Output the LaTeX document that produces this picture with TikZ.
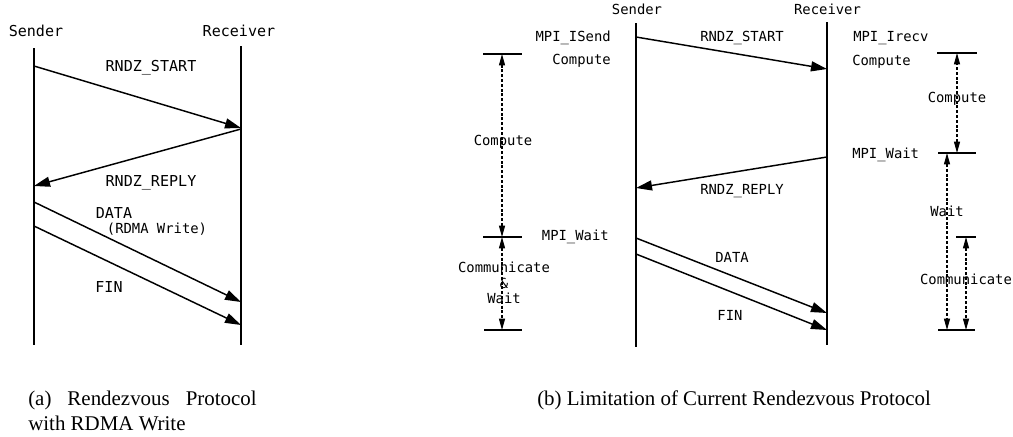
\documentclass[tikz,border=0pt]{standalone}
\usepackage{fontspec}
\setmainfont{Liberation Serif}
\newfontfamily\diagmono{DejaVu Sans Mono}
\usetikzlibrary{arrows.meta}

\begin{document}
\begin{tikzpicture}[x=0.75pt,y=-0.75pt,>={Triangle[length=12pt,width=7.5pt]}]
  \tikzstyle{lbla}=[font=\diagmono\fontsize{11.3}{13}\selectfont,inner sep=0pt]
  \tikzstyle{lblb}=[font=\diagmono\fontsize{10.4}{12}\selectfont,inner sep=0pt]
  \tikzstyle{lifeline}=[line width=1.5pt]
  \tikzstyle{msg}=[->,line width=1.1pt]
  \tikzstyle{span}=[{Triangle[length=8.5pt,width=4.5pt]}-{Triangle[length=8.5pt,width=4.5pt]},line width=0.8pt,dash pattern=on 2.2pt off 1.4pt]
  \tikzstyle{tick}=[line width=1.1pt]
  \tikzstyle{caption}=[font=\fontsize{15.7}{17}\selectfont,inner sep=0pt,anchor=west]
  \useasboundingbox (0,0) rectangle (1013,436);

  % (a) rendezvous with RDMA write
  \node[lbla] (sndA) at (36,31) {Sender};
  \node[lbla] (rcvA) at (239,31) {Receiver};
  \coordinate (sndAtop) at (34,48);
  \coordinate (sndAbot) at (34,345);
  \coordinate (rcvAtop) at (241,46);
  \coordinate (rcvAbot) at (241,345);
  \draw[lifeline] (sndAtop) -- (sndAbot);
  \draw[lifeline] (rcvAtop) -- (rcvAbot);

  \coordinate (startA0) at (34,66);   \coordinate (startA1) at (241,128);
  \coordinate (replyA0) at (241,129); \coordinate (replyA1) at (34,186);
  \coordinate (dataA0) at (34,202);   \coordinate (dataA1) at (241,302);
  \coordinate (finA0) at (34,226);    \coordinate (finA1) at (241,325);
  \draw[msg] (startA0) -- (startA1);
  \draw[msg] (replyA0) -- (replyA1);
  \draw[msg] (dataA0) -- (dataA1);
  \draw[msg] (finA0) -- (finA1);

  \node[lbla] (startAlbl) at (151,68) {RNDZ\_START};
  \node[lbla] (replyAlbl) at (151,183) {RNDZ\_REPLY};
  \node[lbla] (dataAlbl) at (114,213) {DATA};
  \node[lblb] (rdmaAlbl) at (157,229) {(RDMA Write)};
  \node[lbla] (finAlbl) at (109,287) {FIN};

  % (b) limitation of current protocol
  \node[lblb] (sndB) at (637,9.5) {Sender};
  \node[lblb] (rcvB) at (827.5,9.5) {Receiver};
  \coordinate (sndBtop) at (636,23);
  \coordinate (sndBbot) at (636,347);
  \coordinate (rcvBtop) at (827,22);
  \coordinate (rcvBbot) at (827,345);
  \draw[lifeline] (sndBtop) -- (sndBbot);
  \draw[lifeline] (rcvBtop) -- (rcvBbot);

  \coordinate (startB0) at (636,37);  \coordinate (startB1) at (827,69);
  \coordinate (replyB0) at (827,157); \coordinate (replyB1) at (636,188);
  \coordinate (dataB0) at (636,238);  \coordinate (dataB1) at (827,313);
  \coordinate (finB0) at (636,254);   \coordinate (finB1) at (827,330);
  \draw[msg] (startB0) -- (startB1);
  \draw[msg] (replyB0) -- (replyB1);
  \draw[msg] (dataB0) -- (dataB1);
  \draw[msg] (finB0) -- (finB1);

  \node[lblb] (startBlbl) at (742,38) {RNDZ\_START};
  \node[lblb] (replyBlbl) at (742,191) {RNDZ\_REPLY};
  \node[lblb] (dataBlbl) at (732,257) {DATA};
  \node[lblb] (finBlbl) at (730,315) {FIN};

  \node[lblb,anchor=east] (isend) at (611,38) {MPI\_ISend};
  \node[lblb,anchor=east] (compS) at (611,61) {Compute};
  \node[lblb,anchor=east] (waitS) at (609,237) {MPI\_Wait};
  \node[lblb,anchor=west] (irecv) at (853,38) {MPI\_Irecv};
  \node[lblb,anchor=west] (compR) at (852,62) {Compute};
  \node[lblb,anchor=west] (waitR) at (852,155) {MPI\_Wait};

  % sender side time spans
  \coordinate (sA) at (502,54);
  \coordinate (sB) at (502,237);
  \coordinate (sC) at (502,330);
  \draw[tick] (sA) ++(-19,0) -- ++(39,0);
  \draw[tick] (sB) ++(-19,0) -- ++(39,0);
  \draw[tick] (sC) ++(-18,0) -- ++(38,0);
  \draw[span] (sB) -- (sA);
  \draw[span] (sB) -- (sC);
  \node[lblb] (compSpan) at (503,142) {Compute};
  \node[lblb] (commSpan) at (504,267) {Communicate};
  \node[lblb] (ampSpan) at (504,283) {\&};
  \node[lblb] (waitSpan) at (504,298) {Wait};

  % receiver side time spans
  \coordinate (rA) at (957,53);
  \coordinate (rB) at (957,153);
  \coordinate (rBw) at (947,153);
  \coordinate (rCw) at (947,330);
  \coordinate (rD) at (966,237);
  \coordinate (rC) at (966,330);
  \draw[tick] (rA) ++(-20,0) -- ++(40,0);
  \draw[tick] (rB) ++(-19,0) -- ++(38,0);
  \draw[tick] (rD) ++(-10,0) -- ++(20,0);
  \draw[tick] (rC) ++(-28,0) -- ++(37,0);
  \draw[span] (rB) -- (rA);
  \draw[span] (rBw) -- (rCw);
  \draw[span] (rD) -- (rC);
  \node[lblb] (compRspan) at (957,99) {Compute};
  \node[lblb] (waitRspan) at (947,211) {Wait};
  \node[lblb] (commRspan) at (966,279) {Communicate};

  % captions
  \node[caption] (capA) at (28,400) {(a)\hspace{12pt}Rendezvous\hspace{12pt}Protocol};
  \node[caption] (capA2) at (28,423) {with RDMA Write};
  \node[caption] (capB) at (537,400) {(b) Limitation of Current Rendezvous Protocol};
\end{tikzpicture}
\end{document}
